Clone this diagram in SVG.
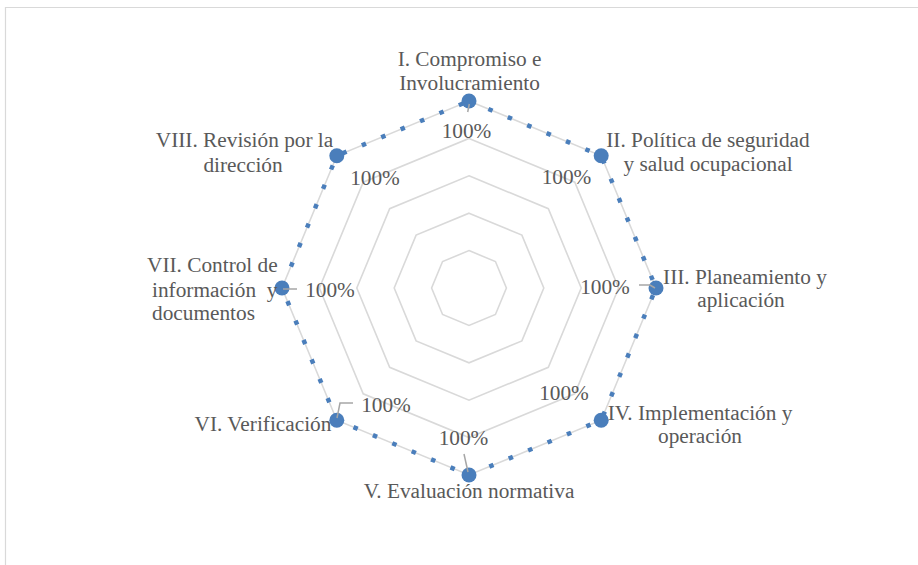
<svg xmlns="http://www.w3.org/2000/svg" width="918" height="565" viewBox="0 0 918 565">
<style>
.frame{fill:none;stroke:#D9D9D9;stroke-width:1.2}
.ring{fill:none;stroke:#D9D9D9;stroke-width:1.6;stroke-linejoin:miter}
.series{fill:none;stroke:#4A7EBB;stroke-width:4.5;stroke-dasharray:4.5 16.5}
.mk{fill:#4A7EBB}
.lead{fill:none;stroke:#A6A6A6;stroke-width:1.5}
text{font-family:"Liberation Serif","Times New Roman",serif;fill:#595959}
.cat{font-size:21.3px}
.pct{font-size:21.3px;text-anchor:middle}
.c{text-anchor:middle}
</style>
<rect width="918" height="565" fill="#FFFFFF"/>
<path class="frame" d="M5.5 565 V7.5 H918"/>
<g id="grid">
<polygon class="ring" points="469,250.6 495.45,261.55 506.4,288 495.45,314.45 469,325.4 442.55,314.45 431.6,288 442.55,261.55"/>
<polygon class="ring" points="469,213.2 521.89,235.11 543.8,288 521.89,340.89 469,362.8 416.11,340.89 394.2,288 416.11,235.11"/>
<polygon class="ring" points="469,175.8 548.34,208.66 581.2,288 548.34,367.34 469,400.2 389.66,367.34 356.8,288 389.66,208.66"/>
<polygon class="ring" points="469,138.4 574.78,182.22 618.6,288 574.78,393.78 469,437.6 363.22,393.78 319.4,288 363.22,182.22"/>
<polygon class="ring" points="469,101 601.23,155.77 656,288 601.23,420.23 469,475 336.77,420.23 282,288 336.77,155.77"/>
</g>
<g id="connectors">
<polygon class="series" points="469,101 601.23,155.77 656,288 601.23,420.23 469,475 336.77,420.23 282,288 336.77,155.77"/>
</g>
<g id="n1"><circle class="mk" cx="469" cy="101" r="7.5"/><polyline class="lead" points="469.3,104 467.7,112"/><text class="cat c" x="469.5" y="66">I. Compromiso e</text><text class="cat c" x="469.5" y="90">Involucramiento</text><text class="pct" x="466.5" y="138">100%</text></g>
<g id="n2"><circle class="mk" cx="601.2" cy="155.8" r="7.5"/><text class="cat c" x="708" y="147">II. Política de seguridad</text><text class="cat c" x="708" y="171">y salud ocupacional</text><text class="pct" x="566.5" y="184">100%</text></g>
<g id="n3"><circle class="mk" cx="656" cy="288" r="7.5"/><polyline class="lead" points="639,285 650,285 655,288"/><text class="cat c" x="745" y="284">III. Planeamiento y</text><text class="cat c" x="741" y="307">aplicación</text><text class="pct" x="605" y="294">100%</text></g>
<g id="n4"><circle class="mk" cx="601.2" cy="420.2" r="7.5"/><text class="cat c" x="700" y="420">IV. Implementación y</text><text class="cat c" x="700" y="443">operación</text><text class="pct" x="564" y="400">100%</text></g>
<g id="n5"><circle class="mk" cx="469" cy="475" r="7.5"/><polyline class="lead" points="464,454 468,472"/><text class="cat c" x="469" y="498">V. Evaluación normativa</text><text class="pct" x="463.5" y="445">100%</text></g>
<g id="n6"><circle class="mk" cx="336.8" cy="420.2" r="7.5"/><polyline class="lead" points="353,403 340,403 337,418"/><text class="cat c" x="263" y="431">VI. Verificación</text><text class="pct" x="386" y="412">100%</text></g>
<g id="n7"><circle class="mk" cx="282" cy="288" r="7.5"/><polyline class="lead" points="283,289 297,289"/><text class="cat" x="147" y="272">VII. Control de</text><text class="cat" x="152" y="297" xml:space="preserve">información  y</text><text class="cat" x="152" y="320">documentos</text><text class="pct" x="330" y="297">100%</text></g>
<g id="n8"><circle class="mk" cx="336.8" cy="155.8" r="7.5"/><text class="cat c" x="244.5" y="147">VIII. Revisión por la</text><text class="cat c" x="243" y="172">dirección</text><text class="pct" x="375" y="185">100%</text></g>
</svg>
